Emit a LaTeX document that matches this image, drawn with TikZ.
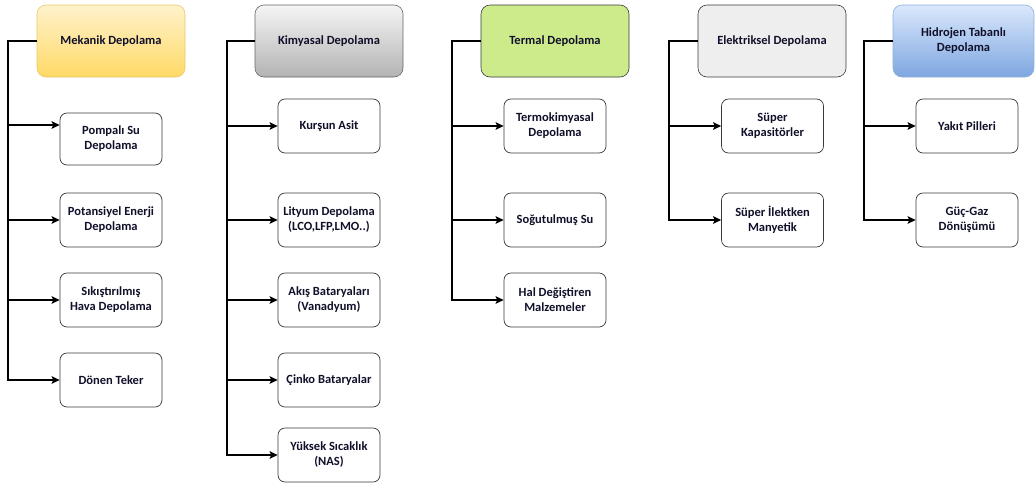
\documentclass[tikz,border=0pt]{standalone}
\usepackage{fontspec}
\setmainfont{Carlito}
\usetikzlibrary{arrows.meta,positioning,calc}
\definecolor{mektop}{HTML}{FFF2CC}
\definecolor{mekbot}{HTML}{FFD966}
\definecolor{mekline}{HTML}{E8C96A}
\definecolor{kimtop}{HTML}{F5F5F5}
\definecolor{kimbot}{HTML}{B3B3B3}
\definecolor{kimline}{HTML}{666666}
\definecolor{terfill}{HTML}{CDEB8B}
\definecolor{elkfill}{HTML}{EEEEEE}
\definecolor{darkline}{HTML}{36393D}
\definecolor{hidtop}{HTML}{DAE8FC}
\definecolor{hidbot}{HTML}{7EA6E0}
\definecolor{hidline}{HTML}{8FB0DA}
\definecolor{txt}{HTML}{10102A}

\begin{document}
\begin{tikzpicture}[x=1pt,y=-1pt,
  head/.style={rounded corners=9pt, minimum width=148pt, minimum height=72pt,
    inner xsep=2pt, align=center, text=txt, line width=0.6pt,
    font=\bfseries\fontsize{12.5}{15}\selectfont},
  leaf/.style={draw=darkline, fill=white, rounded corners=7pt, line width=0.7pt,
    minimum width=102pt, minimum height=54pt, inner xsep=1pt, align=center,
    text=txt, font=\bfseries\fontsize{12.5}{15}\selectfont},
  arr/.style={-{Stealth[length=8pt,width=7.5pt,inset=1.5pt]}, line width=1.6pt, black},
  ln/.style={line width=1.6pt, black}
]
  \useasboundingbox (0,0) rectangle (1035,485);

  % headers
  \node[head, draw=mekline, top color=mektop, bottom color=mekbot] (mek) at (111,41) {Mekanik Depolama};
  \node[head, draw=kimline, top color=kimtop, bottom color=kimbot] (kim) at (329,41) {Kimyasal Depolama};
  \node[head, draw=darkline, fill=terfill] (ter) at (555,41) {Termal Depolama};
  \node[head, draw=darkline, fill=elkfill] (elk) at (772,41) {Elektriksel Depolama};
  \node[head, draw=hidline, top color=hidtop, bottom color=hidbot, minimum width=141pt] (hid) at (963.5,41) {Hidrojen Tabanlı\\Depolama};

  % trunk points
  \coordinate (mekT) at (8,41);
  \coordinate (kimT) at (227,41);
  \coordinate (terT) at (452,41);
  \coordinate (elkT) at (669,41);
  \coordinate (hidT) at (864,41);

  % mekanik
  \node[leaf, minimum height=52pt] (pom) at (111,139) {Pompalı Su\\Depolama};
  \node[leaf] (pot) at (111,220) {Potansiyel Enerji\\Depolama};
  \node[leaf] (sik) at (111,300) {Sıkıştırılmış\\Hava Depolama};
  \node[leaf] (don) at (111,380) {Dönen Teker};

  % kimyasal
  \node[leaf] (kur) at (329,126) {Kurşun Asit};
  \node[leaf] (lit) at (329,220) {Lityum Depolama\\(LCO,LFP,LMO..)};
  \node[leaf] (aki) at (329,300) {Akış Bataryaları\\(Vanadyum)};
  \node[leaf] (cin) at (329,380) {Çinko Bataryalar};
  \node[leaf] (yuk) at (329,455) {Yüksek Sıcaklık\\(NAS)};

  % termal
  \node[leaf] (tkm) at (555,126) {Termokimyasal\\Depolama};
  \node[leaf] (sog) at (555,220) {Soğutulmuş Su};
  \node[leaf] (hal) at (555,300) {Hal Değiştiren\\Malzemeler};

  % elektriksel
  \node[leaf] (kap) at (772.5,126) {Süper\\Kapasitörler};
  \node[leaf] (ile) at (772.5,220) {Süper İlektken\\Manyetik};

  % hidrojen
  \node[leaf] (yak) at (967,126) {Yakıt Pilleri};
  \node[leaf] (gaz) at (967,220) {Güç-Gaz\\Dönüşümü};

  % connectors
  \draw[arr] (mek.west) -- (mekT) |- (don.west);
  \draw[arr] (mekT |- 0,125) -- ([yshift=14pt]pom.west);
  \foreach \n in {pot,sik}
    \draw[arr] (mekT |- \n.west) -- (\n.west);

  \draw[arr] (kim.west) -- (kimT) |- (yuk.west);
  \foreach \n in {kur,lit,aki,cin}
    \draw[arr] (kimT |- \n.west) -- (\n.west);

  \draw[arr] (ter.west) -- (terT) |- (hal.west);
  \foreach \n in {tkm,sog}
    \draw[arr] (terT |- \n.west) -- (\n.west);

  \draw[arr] (elk.west) -- (elkT) |- (ile.west);
  \draw[arr] (elkT |- kap.west) -- (kap.west);

  \draw[arr] (hid.west) -- (hidT) |- (gaz.west);
  \draw[arr] (hidT |- yak.west) -- (yak.west);
\end{tikzpicture}
\end{document}
